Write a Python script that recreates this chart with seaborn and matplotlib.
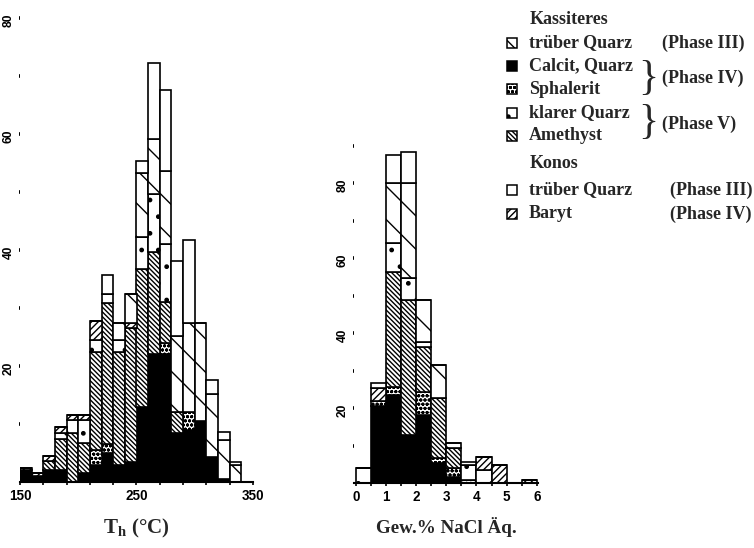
import numpy as np
import pandas as pd
import matplotlib.pyplot as plt
import seaborn as sns
from matplotlib.colors import to_hex
from matplotlib.patches import Rectangle

# --- counts per bin (bottom -> top of each stack) ---
# left panel: homogenisation temperature, 10 degC bins from 150 to 340
th_edges = [150, 160, 170, 180, 190, 200, 210, 220, 230, 240, 250, 260, 270, 280, 290, 300, 310, 320, 330, 340]
th_calcit    = [2, 1, 2, 2, 0, 1.5, 3, 5, 3, 3.5, 13, 22, 22, 8.4, 9, 10.5, 4.3, 0.5, 0]
th_sphalerit = [0, 0, 0, 0, 0, 0, 2.5, 1.5, 0, 0, 0, 0, 2, 0, 3, 0, 0, 0, 0]
th_amethyst  = [0, 0, 1.7, 5.5, 8.4, 5.2, 17, 24.3, 19.5, 23, 23.8, 17.7, 7, 3.7, 0, 0, 0, 0, 0]
th_klarer    = [0, 0, 0, 1, 2.3, 4, 2, 1.7, 2, 0, 5.5, 10, 10, 0, 0, 0, 0, 0, 0]
th_baryt     = [0.5, 0.5, 0.8, 1, 0.9, 0.9, 3.2, 0, 0, 1, 0, 0, 0, 0, 0, 0, 0, 0, 0]
th_trueb_kas = [0, 0, 0, 0, 0, 0, 0, 0, 3, 5, 11, 9.5, 12.6, 13, 15.4, 17, 10.9, 6.8, 3]
th_trueb_kon = [0, 0, 0, 0, 0, 0, 0, 3.2, 0, 0, 2, 13, 14, 13, 14.3, 0, 2.4, 1.4, 0.5]

# right panel: salinity, 0.5 wt% bins from 0 to 6
salt_edges = [0, 0.5, 1, 1.5, 2, 2.5, 3, 3.5, 4, 4.5, 5, 5.5, 6]
salt_calcit    = [0, 20.5, 23.6, 12.9, 18.2, 5.3, 1.8, 0, 0, 0, 0, 0]
salt_sphalerit = [0, 1.5, 2.2, 0, 6.2, 1.4, 2.2, 0.9, 0, 0, 0, 0]
salt_amethyst  = [0, 0, 30.6, 36, 12, 16, 5.3, 0, 0, 0, 0, 0]
salt_klarer    = [4, 0, 7.6, 5.8, 1.4, 0, 0, 4, 3.5, 0, 0, 0]
salt_baryt     = [0, 3.5, 0, 0, 0, 0, 0, 0, 3.6, 4.9, 0, 1]
salt_trueb_kas = [0, 0, 16, 25.3, 11, 8.9, 1.4, 0, 0, 0, 0, 0]
salt_trueb_kon = [0, 1.3, 7.5, 8.4, 0, 0, 0, 0.9, 0, 0, 0, 0]

# legend text
legend_rows = [('trueb_kas', 'trüber Quarz'), ('calcit', 'Calcit, Quarz'), ('sphalerit', 'Sphalerit'),
               ('klarer', 'klarer Quarz'), ('amethyst', 'Amethyst'),
               ('trueb_kon', 'trüber Quarz'), ('baryt', 'Baryt')]
legend_heads = ['Kassiteres', 'Konos']
phase_labels = ['(Phase III)', '(Phase IV)', '(Phase V)', '(Phase III)', '(Phase IV)']

# figure is drawn at 200 dpi so that the single-line hatch comes out as sparse as in the print
DPI = 200
W, H = 754, 548
def px(v):
    return v * 72 / DPI

# key colour used to find the patches again, real face colour, hatch
layer_style = {
    'calcit':    ('#000000', 'black', None),
    'sphalerit': ('#fefefe', 'white', 'o' * 8),
    'amethyst':  ('#fdfdfd', 'white', '\\' * 14),
    'klarer':    ('#fcfcfc', 'white', '..'),
    'baryt':     ('#fbfbfb', 'white', '/' * 10),
    'trueb_kas': ('#fafafa', 'white', '\\\\'),
    'trueb_kon': ('#f9f9f9', 'white', None),
}

sns.set_theme(style='white')
plt.rcParams['font.family'] = ['Liberation Serif', 'DejaVu Serif']
plt.rcParams['mathtext.default'] = 'regular'
plt.rcParams['hatch.linewidth'] = 0.5
plt.rcParams['hatch.color'] = 'black'


def stacked_hist(ax, edges, cols):
    e = np.asarray(edges, dtype=float)
    centers = (e[:-1] + e[1:]) / 2
    df = pd.concat([pd.DataFrame({'x': centers, 'n': v, 'layer': k}) for k, v in cols.items()],
                   ignore_index=True)
    # seaborn stacks the last hue level at the bottom
    order = list(cols)[::-1]
    sns.histplot(data=df, x='x', weights='n', hue='layer', hue_order=order, multiple='stack',
                 bins=list(edges), palette={k: layer_style[k][0] for k in cols}, alpha=1,
                 edgecolor='black', linewidth=0.6, legend=False, ax=ax)
    lookup = {v[0]: v for v in layer_style.values()}
    for p in ax.patches:
        key, face, hatch = lookup[to_hex(p.get_facecolor())]
        p.set_facecolor(face)
        if hatch:
            p.set_hatch(hatch)


def style_axis(ax):
    sns.despine(ax=ax, left=True)
    ax.set_xlabel('')
    ax.set_ylabel('')
    ax.spines['bottom'].set_linewidth(0.75)
    ax.spines['bottom'].set_color('black')
    ax.tick_params(axis='x', bottom=True, direction='out', length=1.0, width=0.6, pad=1.5,
                   labelsize=px(13.5), colors='black')
    ax.tick_params(axis='y', left=True, direction='out', length=0.5, width=1.3, pad=1.5,
                   labelsize=px(12), labelrotation=90, colors='black')


fig = plt.figure(figsize=(W / DPI, H / DPI), dpi=DPI)
def box(x0, y0, x1, y1):
    return [x0 / W, 1 - y1 / H, (x1 - x0) / W, (y1 - y0) / H]

# --- left: T_h ---
ax1 = fig.add_axes(box(20, 0.6, 253, 482))
stacked_hist(ax1, th_edges, {
    'calcit': th_calcit, 'sphalerit': th_sphalerit, 'amethyst': th_amethyst,
    'klarer': th_klarer, 'baryt': th_baryt, 'trueb_kas': th_trueb_kas, 'trueb_kon': th_trueb_kon})
style_axis(ax1)
ax1.set_xlim(150, 350)
ax1.set_ylim(0, 83)
xt = np.arange(150, 351, 20)
ax1.set_xticks(xt, [str(v) if v in (150, 250, 350) else '' for v in xt])
yt = np.arange(10, 81, 10)
ax1.set_yticks(yt, [str(v) if v % 20 == 0 else '' for v in yt])
ax1.set_xlabel('T$_\\mathregular{h}$ (°C)', fontsize=px(21), fontweight='bold')
ax1.xaxis.set_label_coords(0.5, -0.073)

# --- right: salinity ---
ax2 = fig.add_axes(box(354.2, 138.3, 538.4, 483.3))
stacked_hist(ax2, salt_edges, {
    'calcit': salt_calcit, 'sphalerit': salt_sphalerit, 'amethyst': salt_amethyst,
    'klarer': salt_klarer, 'baryt': salt_baryt, 'trueb_kas': salt_trueb_kas, 'trueb_kon': salt_trueb_kon})
style_axis(ax2)
ax2.set_xlim(-0.05, 6.05)
ax2.set_ylim(0, 92)
xt2 = np.arange(0, 6.01, 0.5)
ax2.set_xticks(xt2, [str(int(v)) if v == int(v) else '' for v in xt2])
yt2 = np.arange(10, 91, 10)
ax2.set_yticks(yt2, [str(v) if v % 20 == 0 else '' for v in yt2])
ax2.set_xlabel('Gew.% NaCl Äq.', fontsize=px(19), fontweight='bold')
ax2.xaxis.set_label_coords(0.5, -0.098)

for ax in (ax1, ax2):
    for t in ax.get_xticklabels() + ax.get_yticklabels():
        t.set_fontfamily('Liberation Sans')
        t.set_fontweight('bold')

# --- legend, drawn in pixel coordinates ---
lg = fig.add_axes([0, 0, 1, 1])
lg.set_xlim(0, W)
lg.set_ylim(H, 0)
lg.axis('off')
fs = px(18)
row_y = [43, 66, 89, 113, 136, 190, 214]
for (key, label), y in zip(legend_rows, row_y):
    lg.add_patch(Rectangle((507, y - 5), 10, 10, facecolor=layer_style[key][1],
                           hatch=layer_style[key][2], edgecolor='black', linewidth=0.55))
    lg.text(529, y, label, fontsize=fs, va='center', ha='left', fontweight='bold')
for head, y in zip(legend_heads, [19, 164]):
    lg.text(530, y, head, fontsize=fs, va='center', ha='left', fontweight='bold')
for label, (x, y) in zip(phase_labels, [(662, 43), (662, 78), (662, 124), (670, 190), (670, 214)]):
    lg.text(x, y, label, fontsize=fs, va='center', ha='left', fontweight='bold')
for y in (79, 123):
    lg.text(648, y, '}', fontsize=px(42), va='center', ha='center')

fig.savefig('out.png', dpi=DPI)
